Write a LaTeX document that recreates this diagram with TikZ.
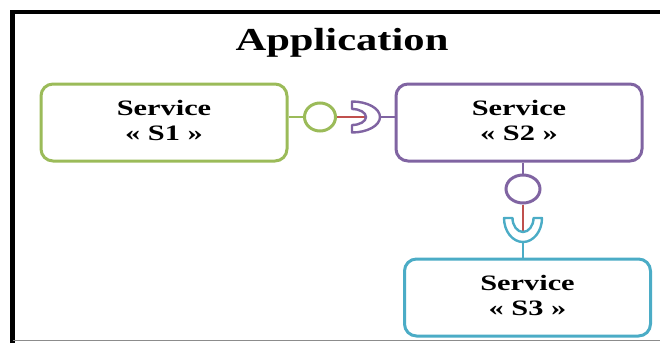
\documentclass[tikz,border=0pt]{standalone}
\usepackage{fontspec}
\setmainfont{Liberation Serif}
\usetikzlibrary{shapes.geometric}
\definecolor{svcgreen}{HTML}{9BBB59}
\definecolor{svcpurple}{HTML}{8064A2}
\definecolor{svcteal}{HTML}{4BACC6}
\definecolor{linkred}{HTML}{C0504D}
% two-line service label, widened like the rest of the lettering
\newcommand\svctext[1]{\scalebox{1.38}[1]{\fontsize{22}{25}\selectfont\bfseries
  \begin{tabular}{@{}c@{}}Service\\« #1 »\end{tabular}}}
\begin{document}
\begin{tikzpicture}[x=1pt,y=-1pt,
  svcbox/.style={draw, line width=3pt, rounded corners=12pt, fill=white,
    inner sep=0pt, minimum width=246pt, minimum height=77pt},
  port/.style={draw, ellipse, line width=3pt, fill=white, inner sep=0pt,
    minimum width=31pt, minimum height=28pt},
  wire/.style={line width=1.6pt},
  socket/.style={line width=2.4pt, fill=white, line join=round}]
\useasboundingbox (0,0) rectangle (660,343);

% frame of the application
\draw[line width=4.5pt] (12.5,343) -- (12.5,12) -- (660,12);
\draw[black!45, line width=1pt] (12.5,340.5) -- (660,340.5);
\node[anchor=base] (title) at (342,50)
  {\fontsize{32}{32}\selectfont\bfseries\scalebox{1.33}[1]{Application}};

% services
\node[svcbox, draw=svcgreen]  (s1) at (164,122.5) {\svctext{S1}};
\node[svcbox, draw=svcpurple] (s2) at (519,122.5) {\svctext{S2}};
\node[svcbox, draw=svcteal]   (s3) at (527.5,297.5) {\svctext{S3}};

% provided interfaces
\node[port, draw=svcgreen]  (c1) at (320,117) {};
\node[port, draw=svcpurple, minimum width=34pt] (c2) at (523,189) {};

% required interfaces (sockets)
\coordinate (k1) at (352,117);
\coordinate (k1in) at (366,117);
\coordinate (k1out) at (380,117);
\coordinate (k2) at (523,218);
\coordinate (k2in) at (523,232);
\coordinate (k2out) at (523,242);

% S1 -> S2
\draw[wire, svcgreen] (s1.east |- c1) -- (c1.west);
\draw[wire, linkred] (c1.east) -- (k1in);
\draw[socket, draw=svcpurple]
  (k1) ++(0,15.5) arc[start angle=90, end angle=-90, x radius=28, y radius=15.5]
  -- ++(0,7.5) arc[start angle=-90, end angle=90, x radius=14, y radius=8] -- cycle;
\draw[wire, svcpurple] (k1out) -- (k1out -| s2.west);

% S2 -> S3
\draw[wire, svcpurple] (c2.north |- s2.south) -- (c2.north);
\draw[wire, linkred] (c2.south) -- (k2in);
\draw[socket, draw=svcteal]
  (k2) ++(-19,0) arc[start angle=180, end angle=0, x radius=19, y radius=24]
  -- ++(-8.5,0) arc[start angle=0, end angle=180, x radius=10.5, y radius=14] -- cycle;
\draw[wire, svcteal] (k2out) -- (k2out |- s3.north);
\end{tikzpicture}
\end{document}
